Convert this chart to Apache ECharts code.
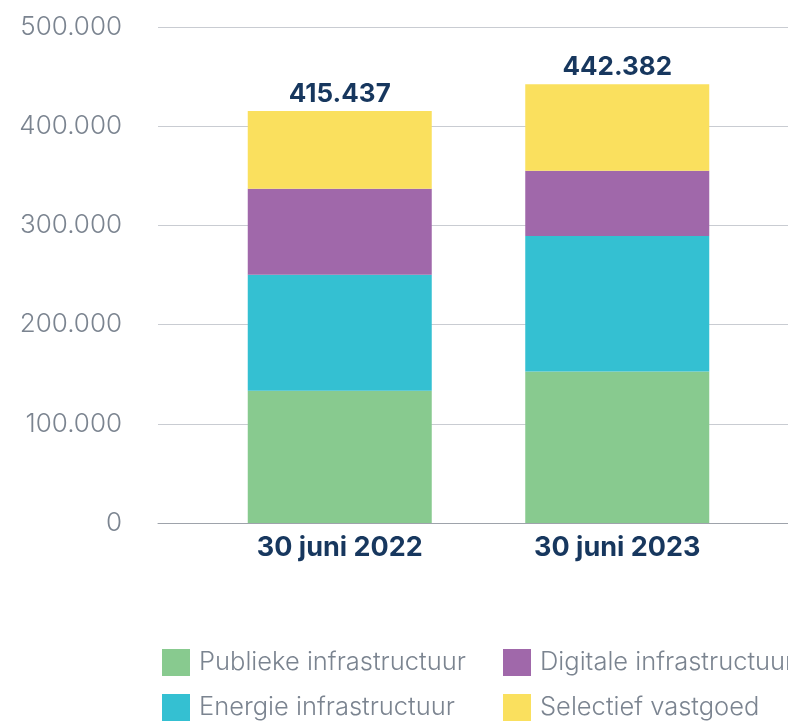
<!DOCTYPE html>
<html>
<head>
<meta charset="utf-8">
<script src="https://cdn.jsdelivr.net/npm/echarts@6/dist/echarts.min.js"></script>
<style>
html,body{margin:0;padding:0;background:#fff;}
#chart{width:788px;height:721px;}
</style>
</head>
<body>
<div id="chart"></div>
<script>
const categories = ['30 juni 2022', '30 juni 2023'];
const publieke = [133400, 152800];
const energie = [116900, 136500];
const digitale = [86700, 65800];
const selectief = [78400, 87300];
const totals = [415437, 442382];
const yTicks = [0, 100000, 200000, 300000, 400000, 500000];

const names = ['Publieke infrastructuur', 'Energie infrastructuur', 'Digitale infrastructuur', 'Selectief vastgoed'];
const colors = ['#88CA8F', '#34C0D2', '#A068AA', '#FAE05E'];
const navy = '#17375E';
const gray = '#7B8490';
const FONT = 'Inter';

function fmt(v) {
  return String(v).replace(/\B(?=(\d{3})+(?!\d))/g, '.');
}

const chart = echarts.init(document.getElementById('chart'), null, {renderer: 'canvas'});
const seriesData = [publieke, energie, digitale, selectief];
const series = seriesData.map((d, i) => ({
  name: names[i],
  type: 'bar',
  stack: 'total',
  xAxisIndex: 1,
  yAxisIndex: 1,
  barWidth: 184,
  data: d,
  itemStyle: {color: colors[i]},
  label: i === 3 ? {
    show: true,
    position: 'top',
    distance: 4,
    formatter: p => fmt(totals[p.dataIndex]),
    fontFamily: FONT,
    fontWeight: 'bold',
    fontSize: 26,
    color: navy
  } : {show: false}
}));

const legendPos = [[162, 649], [162, 694], [503, 649], [503, 694]];
const legendOrder = [0, 1, 2, 3];
const legends = legendOrder.map((k, j) => ({
  data: [names[k]], orient: 'horizontal', left: legendPos[j][0], top: legendPos[j][1],
  itemWidth: 28, itemHeight: 27, icon: 'rect', padding: 0,
  textStyle: {fontFamily: FONT, fontSize: 25.5, fontWeight: 300, color: gray, padding: [0, 0, 0, 4]}
}));

chart.setOption({
  animation: false,
  grid: [
    {left: 158, right: 0, top: 27, bottom: 198},
    {left: 201, right: 32, top: 27, bottom: 198}
  ],
  xAxis: [
    {gridIndex: 0, type: 'value', min: 0, max: 1, show: true,
     axisLine: {show: true, lineStyle: {color: '#9EA3AB', width: 1}},
     axisTick: {show: false}, axisLabel: {show: false}, splitLine: {show: false}},
    {gridIndex: 1, type: 'category', data: categories,
     axisLine: {show: false}, axisTick: {show: false},
     axisLabel: {margin: 11, fontFamily: FONT, fontWeight: 'bold', fontSize: 27, color: navy}}
  ],
  yAxis: [
    {gridIndex: 0, type: 'value', min: yTicks[0], max: yTicks[yTicks.length - 1], interval: yTicks[1] - yTicks[0],
     axisLine: {show: false}, axisTick: {show: false},
     splitLine: {lineStyle: {color: '#C9CCD2', width: 1}},
     axisLabel: {margin: 36, fontFamily: FONT, fontWeight: 300, fontSize: 26, color: gray, formatter: v => fmt(v)}},
    {gridIndex: 1, type: 'value', min: yTicks[0], max: yTicks[yTicks.length - 1], interval: yTicks[1] - yTicks[0], show: false}
  ],
  legend: legends,
  series: series
});
</script>
</body>
</html>
